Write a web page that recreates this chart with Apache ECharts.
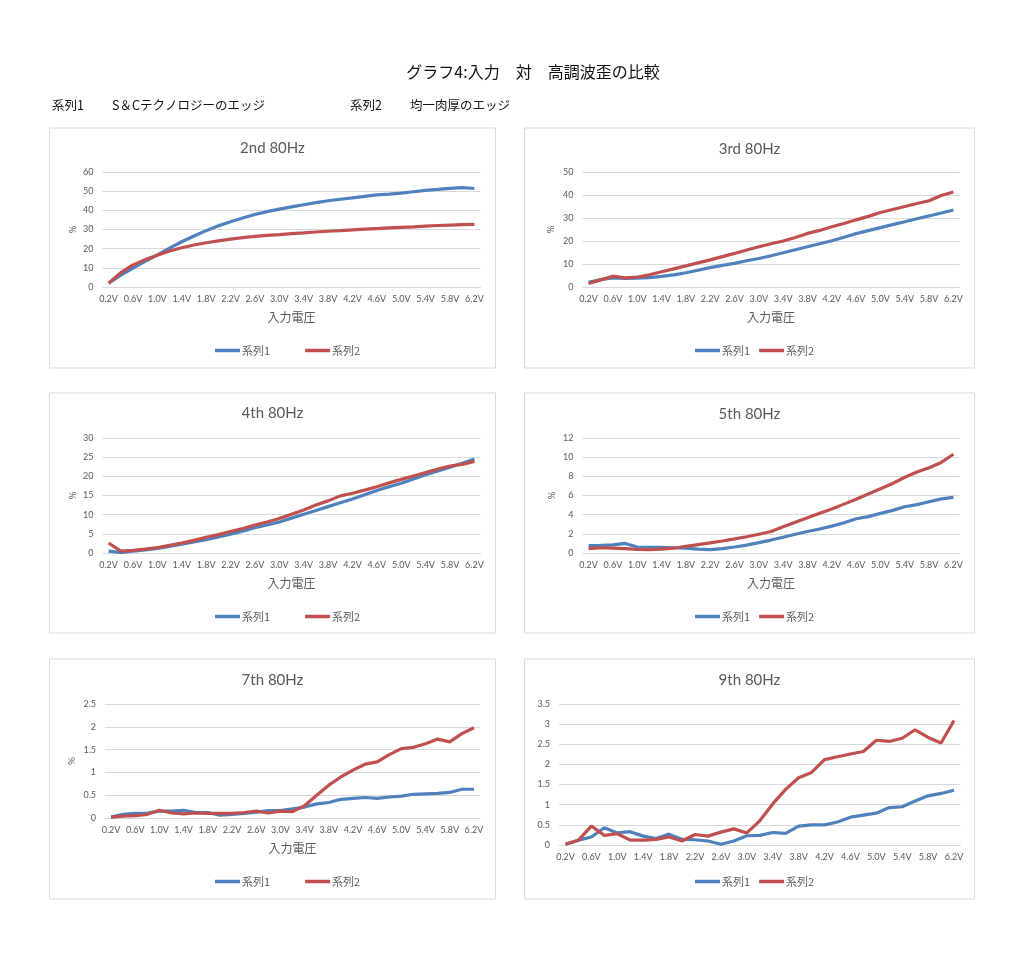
<!DOCTYPE html>
<html><head><meta charset="utf-8">
<script src="https://cdn.jsdelivr.net/npm/echarts@6/dist/echarts.min.js"></script>
<style>html,body{margin:0;padding:0;background:#fff}#c{width:1024px;height:958px}</style>
</head><body><div id="c"></div>
<script>
const categories = ['0.2V','0.4V','0.6V','0.8V','1.0V','1.2V','1.4V','1.6V','1.8V','2.0V','2.2V','2.4V','2.6V','2.8V','3.0V','3.2V','3.4V','3.6V','3.8V','4.0V','4.2V','4.4V','4.6V','4.8V','5.0V','5.2V','5.4V','5.6V','5.8V','6.0V','6.2V'];
const seriesNames = ['系列1','系列2'];
const panelTitles = ['2nd 80Hz','3rd 80Hz','4th 80Hz','5th 80Hz','7th 80Hz','9th 80Hz'];
const pageTitle = 'グラフ4:入力　対　高調波歪の比較';
const noteTexts = ['系列1','S＆Cテクノロジーのエッジ','系列2','均一肉厚のエッジ'];
const xAxisName = '入力電圧';
const yAxisName = '%';
const yMax = [60, 50, 30, 12, 2.5, 3.5];
const yStep = [10, 10, 5, 2, 0.5, 0.5];

const h2_s1 = [2, 6.2, 9.8, 13.4, 16.8, 20.3, 23.6, 26.6, 29.4, 31.9, 34, 36, 37.8, 39.3, 40.6, 41.8, 42.9, 44, 45, 45.8, 46.5, 47.3, 48.1, 48.5, 49, 49.7, 50.4, 50.9, 51.5, 51.8, 51.4];
const h2_s2 = [2, 7.5, 11.5, 14.3, 16.6, 18.8, 20.5, 21.9, 23.1, 24.1, 25, 25.8, 26.4, 26.9, 27.3, 27.8, 28.2, 28.7, 29.1, 29.4, 29.8, 30.2, 30.5, 30.8, 31.1, 31.4, 31.8, 32.1, 32.3, 32.5, 32.7];
const h3_s1 = [2, 3.2, 4, 3.7, 3.8, 4.1, 4.6, 5.3, 6.2, 7.3, 8.4, 9.4, 10.3, 11.4, 12.4, 13.6, 14.9, 16.2, 17.5, 18.8, 20.1, 21.6, 23.2, 24.5, 25.8, 27.1, 28.4, 29.7, 30.9, 32.2, 33.5];
const h3_s2 = [1.5, 3.1, 4.7, 4, 4.3, 5.3, 6.6, 7.9, 9.2, 10.5, 11.8, 13.2, 14.6, 16.1, 17.5, 18.8, 20, 21.5, 23.3, 24.6, 26.2, 27.6, 29.2, 30.7, 32.4, 33.7, 35, 36.3, 37.5, 39.8, 41.3];
const h4_s1 = [0.5, 0.1, 0.5, 0.8, 1.2, 1.7, 2.3, 2.9, 3.5, 4.2, 4.9, 5.7, 6.6, 7.3, 8.1, 9.1, 10.1, 11.1, 12.1, 13.1, 14.1, 15.2, 16.3, 17.3, 18.2, 19.3, 20.4, 21.4, 22.4, 23.4, 24.5];
const h4_s2 = [2.6, 0.5, 0.7, 1.0, 1.4, 2.0, 2.6, 3.3, 4.1, 4.8, 5.6, 6.4, 7.3, 8.1, 9, 10.1, 11.2, 12.5, 13.6, 14.9, 15.6, 16.4, 17.3, 18.3, 19.2, 20.1, 21, 21.9, 22.7, 23.1, 23.9];
const h5_s1 = [0.77, 0.8, 0.85, 1.0, 0.62, 0.6, 0.6, 0.55, 0.5, 0.4, 0.35, 0.45, 0.63, 0.82, 1.08, 1.35, 1.64, 1.95, 2.24, 2.5, 2.8, 3.15, 3.57, 3.8, 4.13, 4.45, 4.83, 5.05, 5.35, 5.65, 5.8];
const h5_s2 = [0.45, 0.55, 0.5, 0.45, 0.38, 0.35, 0.4, 0.5, 0.7, 0.88, 1.05, 1.25, 1.47, 1.7, 1.96, 2.25, 2.73, 3.2, 3.67, 4.15, 4.6, 5.1, 5.6, 6.15, 6.7, 7.25, 7.9, 8.45, 8.9, 9.45, 10.3];
const h7_s1 = [0.02, 0.08, 0.1, 0.11, 0.15, 0.15, 0.17, 0.12, 0.12, 0.06, 0.08, 0.1, 0.13, 0.16, 0.16, 0.2, 0.24, 0.31, 0.34, 0.41, 0.43, 0.45, 0.43, 0.46, 0.48, 0.52, 0.53, 0.54, 0.56, 0.63, 0.63];
const h7_s2 = [0.02, 0.04, 0.05, 0.08, 0.17, 0.11, 0.09, 0.11, 0.1, 0.1, 0.1, 0.12, 0.15, 0.11, 0.15, 0.14, 0.27, 0.5, 0.72, 0.9, 1.05, 1.18, 1.23, 1.39, 1.52, 1.55, 1.63, 1.73, 1.67, 1.85, 1.98];
const h9_s1 = [0.02, 0.12, 0.2, 0.43, 0.3, 0.33, 0.22, 0.16, 0.27, 0.14, 0.13, 0.1, 0.02, 0.1, 0.23, 0.24, 0.31, 0.29, 0.47, 0.5, 0.5, 0.57, 0.69, 0.74, 0.79, 0.93, 0.95, 1.09, 1.22, 1.28, 1.36];
const h9_s2 = [0.02, 0.12, 0.47, 0.24, 0.28, 0.12, 0.12, 0.14, 0.2, 0.1, 0.26, 0.22, 0.32, 0.4, 0.3, 0.6, 1.02, 1.38, 1.67, 1.8, 2.12, 2.19, 2.26, 2.32, 2.6, 2.57, 2.65, 2.86, 2.67, 2.53, 3.09];

const panelData = [[h2_s1,h2_s2],[h3_s1,h3_s2],[h4_s1,h4_s2],[h5_s1,h5_s2],[h7_s1,h7_s2],[h9_s1,h9_s2]];

const colors = ['#4F81BD', '#C0504D'];
const gray = '#595959';
const lineGray = '#d9d9d9';
const latin = "Lato, 'Noto Sans CJK JP', sans-serif";
const cjk = "'Noto Sans CJK JP', sans-serif";

const layout = [
  {box:[49.5,128,446,240], grid:{left:102.5,top:172,width:378,height:115}, titleY:148, legendLeft:215, legendGap:35, legendY:345, names:true, yGap:25},
  {box:[524.5,128,450,240], grid:{left:582.5,top:172,width:377,height:115}, titleY:149, legendLeft:695, legendGap:9, legendY:345, names:true, yGap:27},
  {box:[49.5,393,446,240], grid:{left:102.5,top:438,width:378,height:115}, titleY:413, legendLeft:215, legendGap:35, legendY:611, names:true, yGap:25},
  {box:[524.5,393,450,240], grid:{left:582.5,top:438,width:377,height:115}, titleY:414, legendLeft:695, legendGap:9, legendY:611, names:true, yGap:26},
  {box:[49.5,659,446,240], grid:{left:105,top:704,width:375,height:114}, titleY:680, legendLeft:215, legendGap:35, legendY:876, names:true, yGap:28},
  {box:[524.5,659,450,240], grid:{left:559,top:704,width:401.5,height:141}, titleY:680, legendLeft:695, legendGap:9, legendY:876, names:false, yGap:28}
];

const grids = [], xAxes = [], yAxes = [], series = [], legends = [], graphics = [];

graphics.push({type:'text', x:533, y:72, style:{text:pageTitle, align:'center', verticalAlign:'middle', fontSize:16, fontFamily:cjk, fill:'#111'}});
const noteX = [52, 112, 350, 410];
noteTexts.forEach((t,i)=>{
  graphics.push({type:'text', x:noteX[i], y:105, style:{text:t, align:'left', verticalAlign:'middle', fontSize:12.5, fontFamily:cjk, fill:'#111'}});
});

layout.forEach((L, p)=>{
  const [bx,by,bw,bh] = L.box;
  graphics.push({type:'rect', shape:{x:bx,y:by,width:bw,height:bh}, style:{fill:'none', stroke:lineGray, lineWidth:1}});
  graphics.push({type:'text', x:bx+bw/2, y:L.titleY, style:{text:panelTitles[p], align:'center', verticalAlign:'middle', fontSize:15, fontFamily:latin, fill:gray}});
  grids.push(Object.assign({containLabel:false}, L.grid));
  xAxes.push({
    type:'category', gridIndex:p, data:categories, boundaryGap:true,
    axisTick:{show:false},
    axisLine:{lineStyle:{color:lineGray, width:1}},
    axisLabel:{interval:1, fontSize:9, color:gray, margin:8, fontFamily:latin, hideOverlap:false},
    name: L.names ? xAxisName : '', nameLocation:'middle', nameGap:24,
    nameTextStyle:{fontSize:12, color:gray, fontFamily:cjk}
  });
  yAxes.push({
    type:'value', gridIndex:p, min:0, max:yMax[p], interval:yStep[p],
    axisLine:{show:false}, axisTick:{show:false},
    splitLine:{lineStyle:{color:lineGray, width:1}},
    axisLabel:{fontSize:9, color:gray, margin:9, fontFamily:latin},
    name: L.names ? yAxisName : '', nameLocation:'middle', nameGap:L.yGap, nameRotate:90,
    nameTextStyle:{fontSize:10, color:gray, fontFamily:latin}
  });
  panelData[p].forEach((d, k)=>{
    series.push({
      type:'line', name:seriesNames[k], xAxisIndex:p, yAxisIndex:p, data:d,
      symbol:'none', smooth:false, lineStyle:{color:colors[k], width:3.2}, itemStyle:{color:colors[k]},
      animation:false
    });
  });
  legends.push({
    left:L.legendLeft, top:L.legendY, padding:0, orient:'horizontal', icon:'rect', itemWidth:25, itemHeight:3.5,
    itemGap:L.legendGap, data:seriesNames, selectedMode:false,
    textStyle:{fontSize:11, color:gray, fontFamily:cjk, padding:[0,0,0,-3]}
  });
});

const chart = echarts.init(document.getElementById('c'), null, {renderer:'canvas'});
chart.setOption({
  backgroundColor:'#fff',
  animation:false,
  color:colors,
  grid:grids, xAxis:xAxes, yAxis:yAxes, series:series, legend:legends,
  graphic:graphics
});
</script></body></html>
